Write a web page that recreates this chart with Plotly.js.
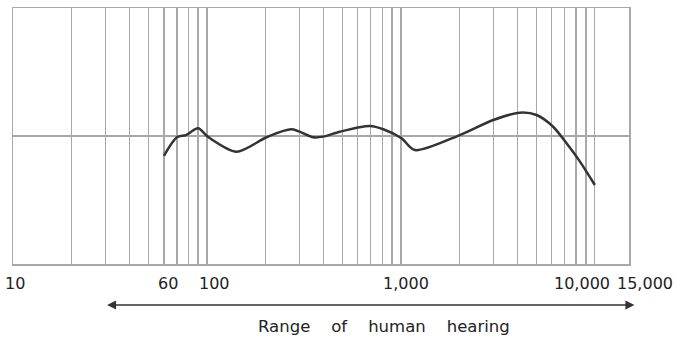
<!DOCTYPE html>
<html><head><meta charset="utf-8">
<script src="https://cdn.plot.ly/plotly-3.0.1.min.js"></script>
<style>html,body{margin:0;padding:0;background:#fff;}#chart{width:678px;height:338px;}</style>
</head><body><div id="chart"></div>
<script>
// Frequency response (Hz) and relative level (dB)
const freqHz = [60, 70, 78, 90, 101, 142, 203, 273, 353, 398, 485, 692, 811, 1008, 1180, 2013, 2993, 4100, 5006, 6095, 7145, 8380, 10000];
const levelDb = [-3.1, -0.2, 0.15, 1.2, -0.1, -2.45, -0.2, 1.05, -0.2, -0.1, 0.67, 1.56, 1.05, -0.36, -2.2, 0.15, 2.5, 3.64, 3.28, 1.45, -1.14, -4.0, -7.66];
const gridFreqs = [20,30,40,50,60,70,80,90,100,200,300,400,500,600,700,800,900,1000,2000,3000,4000,5000,6000,7000,8000,9000,10000];
const tickLabelFreqs = [10, 60, 100, 1000, 10000, 15000];
const tickLabelText = ["10", "60", "100", "1,000", "10,000", "15,000"];
const tickLabelShift = [2, 4, 8, 5, -13, 16];
const hearingRange = [30, 16000];
const rangeLabel = "Range&nbsp;&nbsp;&nbsp;&nbsp;of&nbsp;&nbsp;&nbsp;&nbsp;human&nbsp;&nbsp;&nbsp;&nbsp;hearing";

const gray = '#a8a8a8';
const annotations = tickLabelFreqs.map((f, i) => ({
  x: Math.log10(f), y: 0, xref: 'x', yref: 'paper', yanchor: 'top', xanchor: 'center',
  yshift: -8, xshift: tickLabelShift[i], text: tickLabelText[i], showarrow: false,
  font: {family: 'DejaVu Sans', size: 16, color: '#222'}
}));
annotations.push({
  x: Math.log10(hearingRange[1]), y: -0.16, xref: 'x', yref: 'paper',
  ax: Math.log10(hearingRange[0]), ay: -0.16, axref: 'x', ayref: 'paper',
  text: '', showarrow: true, arrowhead: 2, startarrowhead: 2, arrowside: 'end+start',
  arrowsize: 1.2, arrowwidth: 1.5, arrowcolor: '#333'
});
annotations.push({
  x: Math.log10(1000), y: -0.2, xref: 'x', yref: 'paper', xanchor: 'center', yanchor: 'top',
  xshift: -17, text: rangeLabel, showarrow: false,
  font: {family: 'DejaVu Sans', size: 16.5, color: '#222'}
});

Plotly.newPlot('chart', [{
  x: freqHz, y: levelDb, type: 'scatter', mode: 'lines',
  line: {color: '#333', width: 2.5, shape: 'spline', smoothing: 0.8},
  hoverinfo: 'skip'
}], {
  width: 678, height: 338,
  margin: {l: 13, r: 49, t: 8, b: 74},
  paper_bgcolor: '#fff', plot_bgcolor: '#fff',
  showlegend: false,
  xaxis: {type: 'log', range: [1, Math.log10(15000)], tickvals: gridFreqs, showticklabels: false,
    ticks: '', showgrid: true, gridcolor: gray, gridwidth: 1.2, zeroline: false,
    showline: true, mirror: true, linecolor: gray, linewidth: 1.5, fixedrange: true},
  yaxis: {range: [-20, 20], tickvals: [0], showticklabels: false, ticks: '',
    showgrid: true, gridcolor: gray, gridwidth: 1.2, zeroline: false,
    showline: true, mirror: true, linecolor: gray, linewidth: 1.5, fixedrange: true},
  annotations: annotations
}, {staticPlot: true});
</script></body></html>
